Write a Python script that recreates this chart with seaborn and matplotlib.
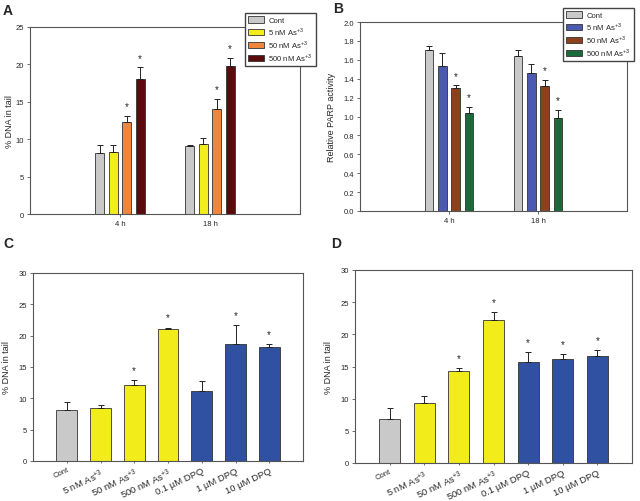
import pandas as pd
import matplotlib.pyplot as plt
import numpy as np
import seaborn as sns

# ---- data ----
times = ['4 h', '18 h']
doses = ['Cont', '5 nM As$^{+3}$', '50 nM As$^{+3}$', '500 nM As$^{+3}$']

# panel A, % DNA in tail (per dose: [4 h, 18 h])
a_mean = [[8.1, 9.1], [8.3, 9.35], [12.3, 14.1], [18.1, 19.8]]
a_err = [[1.1, 0.1], [0.9, 0.8], [0.8, 1.3], [1.5, 1.1]]
a_star = [[0, 0], [0, 0], [1, 1], [1, 1]]

# panel B, relative PARP activity
b_mean = [[1.706, 1.64], [1.53, 1.465], [1.30, 1.32], [1.04, 0.98]]
b_err = [[0.045, 0.06], [0.14, 0.095], [0.03, 0.07], [0.06, 0.09]]
b_star = [[0, 0], [0, 0], [1, 1], [1, 1]]

# panels C and D
treat = ['Cont', '5 nM As$^{+3}$', '50 nM As$^{+3}$', '500 nM As$^{+3}$',
         '0.1 \u00b5M DPQ', '1 \u00b5M DPQ', '10 \u00b5M DPQ']
c_mean = [8.2, 8.5, 12.2, 21.0, 11.1, 18.6, 18.2]
c_err = [1.2, 0.4, 0.7, 0.3, 1.7, 3.1, 0.5]
c_star = [0, 0, 1, 1, 0, 1, 1]
d_mean = [6.9, 9.4, 14.3, 22.2, 15.7, 16.1, 16.7]
d_err = [1.6, 1.0, 0.5, 1.3, 1.5, 0.8, 0.8]
d_star = [0, 0, 1, 1, 1, 1, 1]

a_colors = ['#c9c9c9', '#f2ee1e', '#f0853c', '#5a0b0b']
b_colors = ['#c9c9c9', '#4b59b0', '#8b421c', '#1b6a3a']
cd_colors = ['#c9c9c9', '#f2ec1a', '#f2ec1a', '#f2ec1a', '#3050a2', '#3050a2', '#3050a2']

sns.set_style('white')
plt.rcParams['font.family'] = ['Liberation Sans', 'DejaVu Sans']
plt.rcParams['mathtext.fontset'] = 'custom'
plt.rcParams['mathtext.rm'] = 'Liberation Sans'

fig = plt.figure(figsize=(6.4, 5.02), dpi=100)
W, H = 640, 502


def axes_px(l, t, r, b):
    return fig.add_axes([l / W, 1 - b / H, (r - l) / W, (b - t) / H])


def style(ax):
    for s in ax.spines.values():
        s.set_color('#555555')
        s.set_linewidth(0.8)
    ax.tick_params(axis='both', direction='out', length=2.5, width=0.6,
                   color='#555555', labelsize=5.5, pad=2, left=True, bottom=True)


def err_stars(ax, bars, means, errs, stars, off):
    xs = [p.get_x() + p.get_width() / 2 for p in bars]
    ax.errorbar(xs, means, yerr=[np.zeros(len(errs)), errs], fmt='none',
                ecolor='#222222', elinewidth=0.7, capsize=2.3, capthick=0.7)
    for x, m, e, s in zip(xs, means, errs, stars):
        if s:
            ax.text(x, m + e + off, '*', ha='center', va='bottom', fontsize=7)


def legend(ax, x, y):
    h, l = ax.get_legend_handles_labels()
    ax.legend(h, l, loc='upper right', bbox_to_anchor=(x / W, 1 - y / H),
              bbox_transform=fig.transFigure, fontsize=5.5, frameon=True, fancybox=False,
              edgecolor='#444444', framealpha=1, handlelength=2.1, handleheight=0.85,
              labelspacing=0.12, borderpad=0.45, handletextpad=0.5, borderaxespad=0)


def grouped(ax, mean, err, star, colors, off):
    rows = []
    for i, d in enumerate(doses):
        for j, t in enumerate(times):
            rows.append({'time': t, 'dose': d, 'val': mean[i][j]})
    df = pd.DataFrame(rows)
    sns.barplot(data=df, x='time', y='val', hue='dose', order=times, hue_order=doses,
                palette=colors, width=0.6, gap=0.36, errorbar=None,
                edgecolor='#333333', linewidth=0.6, saturation=1, ax=ax)
    conts = list(ax.containers)[:len(doses)]
    for i, cont in enumerate(conts):
        err_stars(ax, list(cont), mean[i], err[i], star[i], off)
    ax.set_xlim(-1, 2)
    ax.set_xlabel('')
    style(ax)


# ---- A ----
axA = axes_px(30, 28, 300, 215)
grouped(axA, a_mean, a_err, a_star, a_colors, 0.6)
axA.set_ylim(0, 25)
axA.set_yticks(range(0, 26, 5))
axA.set_ylabel('% DNA in tail', fontsize=6.5)
axA.yaxis.set_label_coords(-0.06, 0.5)
legend(axA, 316, 14)

# ---- B ----
axB = axes_px(360, 23, 627, 212)
grouped(axB, b_mean, b_err, b_star, b_colors, 0.05)
axB.set_ylim(0, 2.0)
axB.set_yticks(np.arange(0, 2.01, 0.2))
axB.set_yticklabels([f'{v:.1f}' for v in np.arange(0, 2.01, 0.2)])
axB.set_ylabel('Relative PARP activity', fontsize=6.5)
axB.yaxis.set_label_coords(-0.09, 0.5)
legend(axB, 634, 9)


# ---- C and D ----
def single(ax, mean, err, star, lab_x):
    df = pd.DataFrame({'treat': treat, 'val': mean})
    sns.barplot(data=df, x='treat', y='val', hue='treat', order=treat, hue_order=treat,
                palette=cd_colors, width=0.61, errorbar=None, legend=False,
                edgecolor='#333333', linewidth=0.6, saturation=1, ax=ax)
    bars = sorted(ax.patches, key=lambda p: p.get_x())
    err_stars(ax, bars, mean, err, star, 0.8)
    ax.set_xlim(-1, 7)
    ax.set_ylim(0, 30)
    ax.set_yticks(range(0, 31, 5))
    ax.set_xlabel('')
    ax.set_ylabel('% DNA in tail', fontsize=6.5)
    ax.yaxis.set_label_coords(lab_x, 0.5)
    style(ax)
    ax.tick_params(axis='x', length=1.5)
    ax.set_xticks(range(len(treat)))
    ax.set_xticklabels(treat, rotation=25, ha='right', rotation_mode='anchor', fontsize=6.8)
    ax.get_xticklabels()[0].set_fontsize(5.5)


axC = axes_px(33, 274, 303, 462)
single(axC, c_mean, c_err, c_star, -0.08)
axD = axes_px(355, 271, 632, 464)
single(axD, d_mean, d_err, d_star, -0.078)

for txt, x, y in [('A', 8, 11), ('B', 338, 9), ('C', 8, 244), ('D', 336, 244)]:
    fig.text(x / W, 1 - y / H, txt, fontsize=10, fontweight='bold', ha='center', va='center')

fig.savefig('out.png', dpi=100)
